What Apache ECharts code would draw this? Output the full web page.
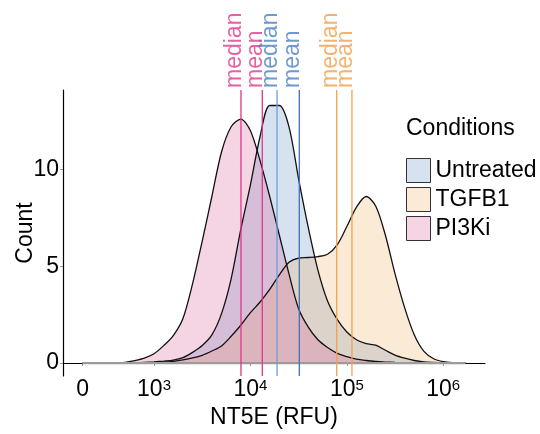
<!DOCTYPE html>
<html>
<head>
<meta charset="utf-8">
<script src="https://cdn.jsdelivr.net/npm/echarts@6/dist/echarts.min.js"></script>
<style>
  html, body { margin: 0; padding: 0; background: #fff; }
  #main { width: 540px; height: 434px; }
</style>
</head>
<body>
<div id="main"></div>
<script>
// display position on the logicle axis (0 sits at 2.26, 10^n at n)
var logPos = [2.26, 2.4, 2.5, 2.6, 2.7, 2.8, 2.9, 3.0, 3.1, 3.2, 3.3, 3.4, 3.5, 3.6, 3.7, 3.8, 3.9, 4.0, 4.1, 4.2,
              4.3, 4.4, 4.5, 4.6, 4.7, 4.8, 4.9, 5.0, 5.1, 5.2, 5.3, 5.4, 5.5, 5.6, 5.7, 5.8, 5.9, 6.0, 6.1, 6.23];

var untreated = [0, 0, 0, 0.005, 0.01, 0.015, 0.03, 0.06, 0.1, 0.15, 0.28, 0.55, 0.9, 1.45, 2.55, 4.35, 6.9, 9.2, 11.7, 13.3,
                 13.3, 12.2, 9.5, 7.0, 4.8, 3.2, 2.25, 1.6, 1.2, 1.0, 0.92, 0.66, 0.41, 0.25, 0.13, 0.06, 0.03, 0.01, 0, 0];
var tgfb1 = [0, 0, 0.005, 0.01, 0.01, 0.015, 0.02, 0.03, 0.05, 0.09, 0.16, 0.26, 0.4, 0.62, 0.88, 1.38, 1.95, 2.6, 3.15, 3.8,
             4.55, 5.2, 5.42, 5.45, 5.5, 5.62, 6.1, 7.05, 8.05, 8.6, 8.1, 6.6, 4.6, 2.85, 1.45, 0.6, 0.22, 0.07, 0.02, 0];
var pi3ki = [0, 0, 0, 0.01, 0.03, 0.12, 0.25, 0.48, 0.9, 1.42, 2.3, 4.1, 6.3, 8.6, 10.9, 12.2, 12.6, 12.0, 10.45, 8.6,
             6.6, 4.6, 2.8, 1.85, 1.2, 0.8, 0.5, 0.33, 0.2, 0.13, 0.08, 0.05, 0.03, 0.02, 0.01, 0, 0, 0, 0, 0];

var conditions = ["Untreated", "TGFB1", "PI3Ki"];

// medians and means, same axis positions
var statNames = ["median", "mean", "median", "mean", "median", "mean"];
var statPos = [3.902, 4.123, 4.276, 4.507, 4.895, 5.053];
var statGroup = ["PI3Ki", "PI3Ki", "Untreated", "Untreated", "TGFB1", "TGFB1"];

var xTickPos = [2.26, 3, 4, 5, 6];
var xTickLabels = ["{base|0}", "{base|10}{sup|3}", "{base|10}{sup|4}", "{base|10}{sup|5}", "{base|10}{sup|6}"];
var yTicks = [0, 5, 10];

var fillColors = {
    "Untreated": "rgba(91,139,195,0.25)",
    "TGFB1": "rgba(239,171,91,0.25)",
    "PI3Ki": "rgba(215,83,147,0.25)"
};
var legendColors = { "Untreated": "#d6e2f0", "TGFB1": "#fbead6", "PI3Ki": "#f5d4e4" };
var statColors = {
    "median": { "PI3Ki": "#e0368a", "Untreated": "#6e9ed6", "TGFB1": "#f2a24e" },
    "mean":   { "PI3Ki": "#e0368a", "Untreated": "#3f72b8", "TGFB1": "#f2a24e" }
};
var textColors = { "PI3Ki": "#de3a8b", "Untreated": "#4a80c4", "TGFB1": "#f0a04a" };

var font = "Liberation Sans, Helvetica, Arial, DejaVu Sans, sans-serif";
var fs = 23;
var yMin = -0.67, yMax = 14.1;

function pairs(values){
    var out = [];
    for(var i=0;i<logPos.length;i++){
        out.push([logPos[i], values[i]]);
    }
    return out;
}

var curves = { "Untreated": untreated, "TGFB1": tgfb1, "PI3Ki": pi3ki };

var series = [];
conditions.forEach(function(name){
    series.push({
        name: name,
        type: "line",
        data: pairs(curves[name]),
        showSymbol: false,
        smooth: 0.3,
        lineStyle: { color: "#111", width: 1.3 },
        itemStyle: { color: legendColors[name] },
        areaStyle: { color: fillColors[name], opacity: 1 },
        z: 2,
        silent: true
    });
});

// gray baseline along zero
series.push({
    name: "baseline",
    type: "line",
    data: [[logPos[0], 0], [logPos[logPos.length - 1], 0]],
    showSymbol: false,
    lineStyle: { color: "#9c9c9c", width: 2.2 },
    z: 3,
    silent: true
});

// median / mean lines
statPos.forEach(function(p, i){
    series.push({
        name: statGroup[i] + " " + statNames[i],
        type: "line",
        data: [[p, yMin], [p, yMax]],
        showSymbol: false,
        lineStyle: { color: statColors[statNames[i]][statGroup[i]], width: 1.3 },
        z: 4,
        silent: true
    });
    series.push({
        name: statGroup[i] + " " + statNames[i] + " label",
        type: "scatter",
        data: [[p, yMax]],
        symbolSize: 0,
        clip: false,
        silent: true,
        label: {
            show: true,
            position: "top",
            distance: 2,
            rotate: 90,
            align: "left",
            verticalAlign: "bottom",
            lineHeight: 13,
            formatter: statNames[i],
            color: textColors[statGroup[i]],
            fontSize: fs,
            fontFamily: font
        },
        z: 5
    });
});

var legendData = conditions.map(function(name){
    return {
        name: name,
        icon: "rect",
        itemStyle: { color: legendColors[name], borderColor: "#333", borderWidth: 1 }
    };
});

var myChart = echarts.init(document.getElementById("main"), null, { renderer: "canvas" });
var option = {
    animation: false,
    backgroundColor: "#fff",
    textStyle: { fontFamily: font },
    title: {
        text: "Conditions",
        left: 406,
        top: 117,
        padding: 0,
        textStyle: { fontSize: fs, fontWeight: "normal", color: "#000", fontFamily: font }
    },
    legend: {
        data: legendData,
        orient: "vertical",
        left: 406,
        top: 158,
        padding: 0,
        itemWidth: 24,
        itemHeight: 24,
        itemGap: 4,
        selectedMode: false,
        textStyle: { fontSize: fs, color: "#000", fontFamily: font }
    },
    grid: { left: 63, right: 55, top: 90, bottom: 58, containLabel: false, outerBoundsMode: "none" },
    xAxis: {
        type: "value",
        min: 2.056,
        max: 6.433,
        name: "NT5E (RFU)",
        nameLocation: "middle",
        nameGap: 30,
        nameMoveOverlap: false,
        nameTextStyle: { fontSize: fs, color: "#000", fontFamily: font },
        axisLine: { lineStyle: { color: "#000", width: 1.2 } },
        axisTick: { show: true, customValues: xTickPos, length: 3, lineStyle: { color: "#999" } },
        axisLabel: {
            customValues: xTickPos,
            margin: 2,
            fontSize: fs,
            color: "#000",
            fontFamily: font,
            rich: {
                base: { fontSize: fs, verticalAlign: "bottom", color: "#000", fontFamily: font },
                sup: { fontSize: 15, lineHeight: 15, padding: [0, 0, 10, 0], verticalAlign: "top", color: "#000", fontFamily: font }
            },
            formatter: function(v){
                for(var i=0;i<xTickPos.length;i++){
                    if(Math.abs(xTickPos[i]-v) < 1e-6) return xTickLabels[i];
                }
                return "";
            }
        },
        splitLine: { show: false }
    },
    yAxis: {
        type: "value",
        min: yMin,
        max: yMax,
        name: "Count",
        nameLocation: "middle",
        nameGap: 26,
        nameMoveOverlap: false,
        nameTextStyle: { fontSize: fs, color: "#000", fontFamily: font },
        axisLine: { show: true, lineStyle: { color: "#000", width: 1.2 } },
        axisTick: { show: true, customValues: yTicks, length: 3, lineStyle: { color: "#999" } },
        axisLabel: { customValues: yTicks, margin: 4, fontSize: fs, color: "#000", fontFamily: font },
        splitLine: { show: false }
    },
    series: series
};
myChart.setOption(option);
</script>
</body>
</html>
